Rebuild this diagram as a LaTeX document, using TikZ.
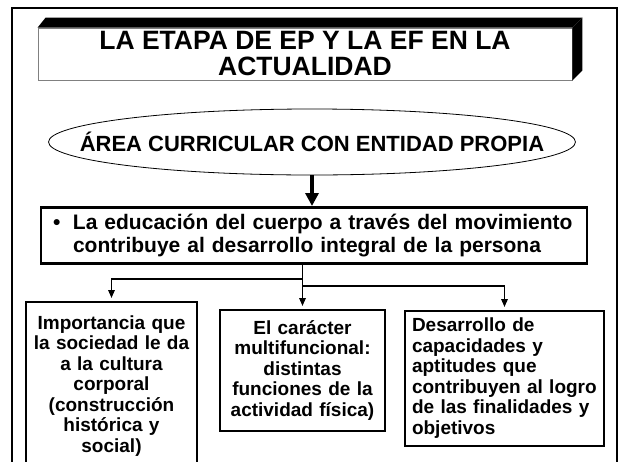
\documentclass[tikz,border=0pt]{standalone}
\usepackage{fontspec}
\setmainfont{Liberation Sans}
\usetikzlibrary{arrows.meta, shapes.geometric, calc}

\begin{document}
\begin{tikzpicture}[
  x=1pt, y=-1pt,
  >={Triangle[length=8pt, width=6.5pt]},
  font=\bfseries,
  box/.style={draw, line width=1.6pt, anchor=north, inner sep=0pt},
  link/.style={->, line width=1.6pt, shorten >=3pt},
  bigarrow/.style={-{Triangle[length=13pt, width=13pt]}, line width=3.5pt},
  lowfont/.style={font=\fontsize{19}{20.5}\selectfont\bfseries},
  ]
  \useasboundingbox (0,0) rectangle (621,461);
  \clip (0,0) rectangle (621,461);

  % Outer frame, open at the bottom
  \draw[line width=2pt] (12,470) -- (12,8) -- (617,8) -- (617,470);

  % Title plate with black bevel
  \node[draw=gray, line width=0.8pt, minimum width=534pt, minimum height=52pt,
    align=center, font=\fontsize{26.5}{26}\selectfont\bfseries]
    (title) at (305,54) {LA ETAPA DE EP Y LA EF EN LA\\ACTUALIDAD};
  \fill (title.north west) -- ++(8,-10) -- ($(title.north east)+(10,-10)$)
    -- (title.north east) -- cycle;
  \fill (title.north east) -- ++(10,-10) -- ($(title.south east)+(10,-10)$)
    -- (title.south east) -- cycle;

  % Ellipse
  \node[ellipse, draw, line width=0.8pt, minimum width=527pt, minimum height=66pt]
    (area) at (312,142) {};
  \node[font=\fontsize{22}{24}\selectfont\bfseries] (areatext) at (area.center)
    {ÁREA CURRICULAR CON ENTIDAD PROPIA};

  % Middle box
  \node[box, line width=2.5pt, minimum width=546pt, minimum height=56pt,
    text width=522pt, align=left, font=\fontsize{21}{23}\selectfont\bfseries]
    (educ) at (314,206)
    {\makebox[20pt][l]{\textbullet}La educación del cuerpo a través del movimiento\\
     \hspace*{20pt}contribuye al desarrollo integral de la persona};
  \draw[bigarrow] (area.south) -- (area.south |- educ.north);

  % Lower boxes
  \node[box, lowfont, minimum width=171pt, minimum height=168pt, text width=165pt,
    align=center] (imp) at (111.5,301)
    {Importancia que\\la sociedad le da\\a la cultura\\corporal\\(construcción\\histórica y\\social)};
  \node[box, lowfont, minimum width=165pt, minimum height=121pt, text width=160pt,
    align=center] (mult) at (302.5,309)
    {El carácter\\multifuncional:\\distintas\\funciones de la\\actividad física)};
  \node[box, lowfont, minimum width=199pt, minimum height=135pt, text width=185pt,
    align=left] (des) at (504.5,310)
    {Desarrollo de\\capacidades y\\aptitudes que\\contribuyen al logro\\de las finalidades y\\objetivos};

  % Branches
  \coordinate (jl) at (302,279);
  \coordinate (jr) at (302,286);
  \draw[link] (educ.south -| mult.north) -- (mult.north);
  \draw[link] (jl) -| (imp.north);
  \draw[link] (jr) -| (des.north);
\end{tikzpicture}
\end{document}
